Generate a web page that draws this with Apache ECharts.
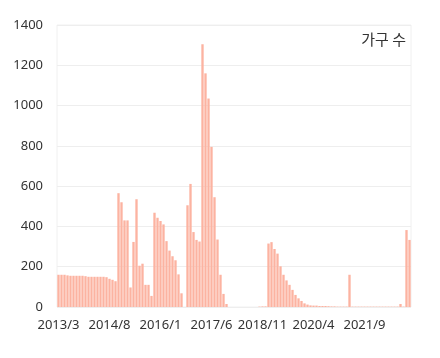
<!DOCTYPE html>
<html>
<head>
<meta charset="utf-8">
<script src="https://cdn.jsdelivr.net/npm/echarts@6/dist/echarts.min.js"></script>
<style>
  html, body { margin: 0; padding: 0; background: #ffffff; }
  #chart { width: 440px; height: 358px; }
</style>
</head>
<body>
<div id="chart"></div>
<script>
// Monthly categories 2013/3 .. 2022/12
const startYear = 2013, startMonth = 3, monthCount = 118;
const categories = [];
for (let k = 0; k < monthCount; k++) {
  const m = startMonth - 1 + k;
  categories.push((startYear + Math.floor(m / 12)) + '/' + ((m % 12) + 1));
}

const seriesName = '가구 수';
const yTicks = [0, 200, 400, 600, 800, 1000, 1200, 1400];

// values, in month order
const values2013to2014 = [160,160,160,157,155,155,155,155,155,153,150,150,150,150,150,150,148,140,135,128];
const values2014to2016 = [565,520,430,430,97,323,535,205,215,110,110,55,468,443,427,410,327,280,252,232,162,68,0];
const values2016to2017 = [505,611,372,333,325,1305,1160,1035,795,545,335,160,65,15];
const values2017to2018 = [0,0,0,0,0,0,0,0,0,0,2,3,3];
const values2018to2020 = [315,322,288,265,202,160,132,110,85,60,43,30,18,12,8,7,7,5,5,5,4,3,3,2,2,2,2];
const values2021to2022 = [160,2,2,2,2,2,2,2,2,2,2,2,2,2,2,2,2,15,2,382,333];

const values = [].concat(values2013to2014, values2014to2016, values2016to2017,
                         values2017to2018, values2018to2020, values2021to2022);

const chart = echarts.init(document.getElementById('chart'), null, { renderer: 'canvas' });
chart.setOption({
  animation: false,
  backgroundColor: '#ffffff',
  title: {
    text: seriesName,
    right: 29,
    top: 27,
    textStyle: { fontSize: 15, fontWeight: 'normal', color: '#333', fontFamily: '"Noto Sans CJK KR", sans-serif' }
  },
  grid: {
    left: 57, right: 29, top: 25, bottom: 51,
    show: true, borderColor: '#f0f0f0', borderWidth: 1
  },
  xAxis: {
    type: 'category',
    data: categories,
    axisLine: { show: false },
    axisTick: { show: false },
    axisLabel: {
      interval: 16,
      margin: 12,
      fontSize: 13,
      color: '#333',
      fontFamily: '"Noto Sans", sans-serif'
    }
  },
  yAxis: {
    type: 'value',
    min: yTicks[0],
    max: yTicks[yTicks.length - 1],
    interval: 200,
    axisLine: { show: false },
    axisTick: { show: false },
    axisLabel: {
      fontSize: 13, color: '#333', margin: 14, fontFamily: '"Noto Sans", sans-serif',
      formatter: function (v) { return String(v); }
    },
    splitLine: { lineStyle: { color: '#eeeeee' } }
  },
  series: [{
    name: seriesName,
    type: 'bar',
    data: values,
    barCategoryGap: '22%',
    itemStyle: { color: '#fcb3a1' }
  }]
});
</script>
</body>
</html>
